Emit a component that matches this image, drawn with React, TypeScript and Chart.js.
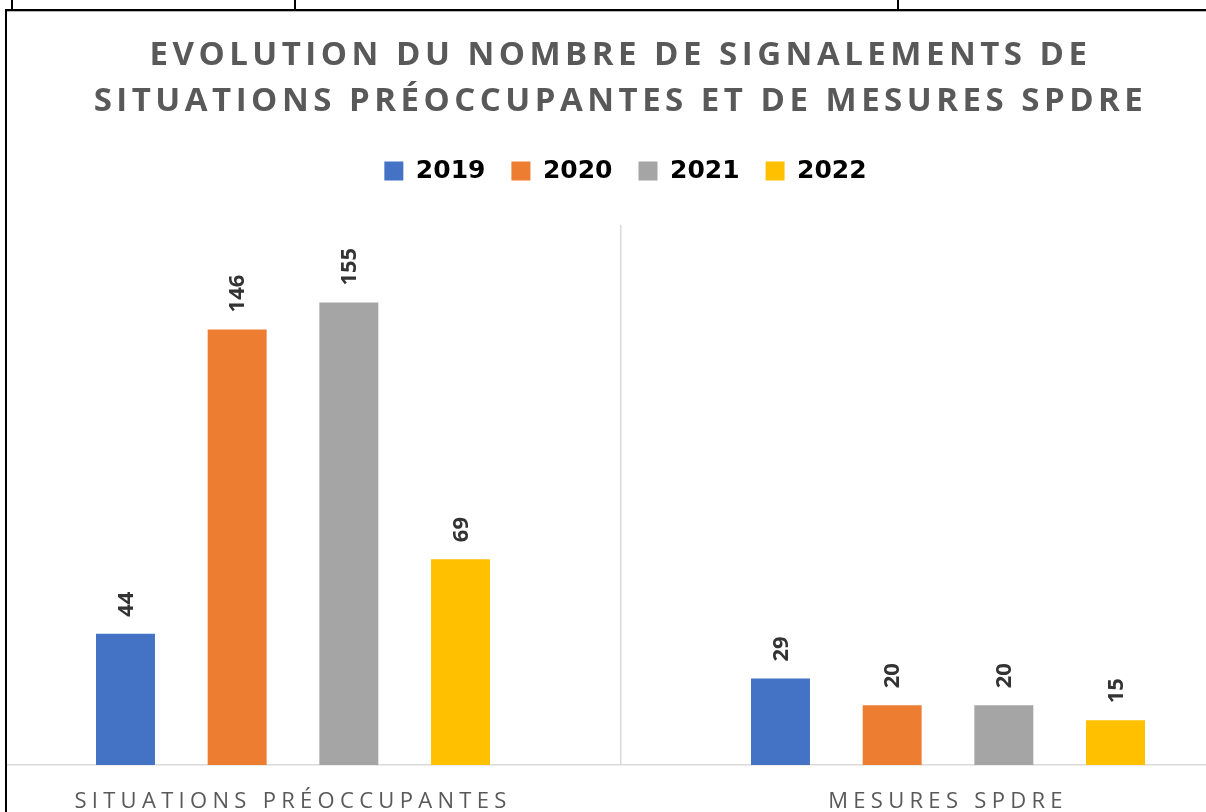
import React, { useEffect, useRef } from "react";
import { Chart, registerables } from "chart.js";

Chart.register(...registerables);

const titleLines = [
  "EVOLUTION DU NOMBRE DE SIGNALEMENTS DE",
  "SITUATIONS PRÉOCCUPANTES ET DE MESURES SPDRE",
];
const categories = ["SITUATIONS PRÉOCCUPANTES", "MESURES SPDRE"];
const seriesLabels = ["2019", "2020", "2021", "2022"];
const values2019 = [44, 29];
const values2020 = [146, 20];
const values2021 = [155, 20];
const values2022 = [69, 15];
const seriesColors = ["#4472C4", "#ED7D31", "#A5A5A5", "#FFC000"];
const yMin = 0;
const yMax = 181;

const dataLabelPlugin = {
  id: "rotatedDataLabels",
  afterDatasetsDraw(chart: any) {
    const ctx = chart.ctx;
    ctx.save();
    ctx.font = "bold 22px 'Open Sans'";
    ctx.fillStyle = "#333333";
    ctx.textAlign = "left";
    ctx.textBaseline = "middle";
    chart.data.datasets.forEach((ds: any, i: number) => {
      const meta = chart.getDatasetMeta(i);
      meta.data.forEach((bar: any, j: number) => {
        ctx.save();
        ctx.translate(bar.x + 1, bar.y - 17);
        ctx.rotate(-Math.PI / 2);
        ctx.fillText(String(ds.data[j]), 0, 0);
        ctx.restore();
      });
    });
    ctx.restore();
  },
};

const categoryLabelPlugin = {
  id: "spacedCategoryLabels",
  afterDraw(chart: any) {
    const ctx = chart.ctx;
    const xs = chart.scales.x;
    ctx.save();
    ctx.font = "22px 'Open Sans'";
    (ctx as any).letterSpacing = "5.3px";
    ctx.fillStyle = "#595959";
    ctx.textAlign = "center";
    ctx.textBaseline = "alphabetic";
    (chart.data.labels as string[]).forEach((c, i) => {
      ctx.fillText(c, xs.getPixelForValue(i), 808);
    });
    ctx.restore();
  },
};

export default function App() {
  const canvasRef = useRef<HTMLCanvasElement | null>(null);

  useEffect(() => {
    document.body.style.margin = "0";
    const canvas = canvasRef.current;
    if (!canvas) return;
    const seriesValues = [values2019, values2020, values2021, values2022];
    const chart = new Chart(canvas, {
      type: "bar",
      data: {
        labels: categories,
        datasets: seriesLabels.map((label, i) => ({
          label,
          data: seriesValues[i],
          backgroundColor: seriesColors[i],
          borderWidth: 0,
          categoryPercentage: 0.682,
          barPercentage: 0.528,
        })),
      },
      options: {
        responsive: false,
        animation: false,
        events: [],
        layout: { padding: { top: 132.5, left: 10.5, right: 0.5, bottom: 47 } },
        plugins: {
          title: { display: false },
          tooltip: { enabled: false },
          legend: {
            display: true,
            position: "top",
            labels: {
              boxWidth: 19,
              boxHeight: 19,
              padding: 26,
              color: "#000000",
              font: { family: "'DejaVu Sans'", weight: "bold", size: 25 },
            },
          },
          subtitle: {
            display: true,
            text: "",
            position: "top",
            weight: 500,
            font: { size: 10, lineHeight: 1 },
            padding: { top: 0, bottom: 21.5 },
          },
        },
        scales: {
          x: {
            grid: {
              display: true,
              offset: true,
              drawTicks: false,
              color: "#d9d9d9",
              lineWidth: 1.5,
            },
            border: { display: true, color: "#d9d9d9", width: 1.5 },
            ticks: { display: false },
          },
          y: {
            display: true,
            position: "right",
            min: yMin,
            max: yMax,
            grid: { display: false },
            border: { display: false },
            ticks: { display: false },
            afterFit: (scale: any) => {
              scale.width = 10;
            },
          },
        },
      },
      plugins: [dataLabelPlugin, categoryLabelPlugin],
    });
    return () => chart.destroy();
  }, []);

  return (
    <div
      style={{
        position: "fixed",
        left: 0,
        top: 0,
        width: 1206,
        height: 812,
        overflow: "hidden",
        background: "#ffffff",
      }}
    >
      <canvas
        ref={canvasRef}
        width={1331}
        height={812}
        style={{ position: "absolute", left: -45, top: 0, width: 1331, height: 812 }}
      />
      <div
        style={{
          position: "absolute",
          left: 0,
          top: 30,
          width: 1241,
          textAlign: "center",
          fontFamily: "'Open Sans'",
          fontWeight: 700,
          fontSize: 33,
          lineHeight: "46px",
          letterSpacing: "4.5px",
          color: "#595959",
          whiteSpace: "nowrap",
        }}
      >
        {titleLines.map((l) => (
          <div key={l}>{l}</div>
        ))}
      </div>
      <div style={{ position: "absolute", left: 0, top: 0, width: 5, height: 812, background: "#fff" }} />
      <div style={{ position: "absolute", left: 6, top: 9, width: 1200, height: 2, background: "#000" }} />
      <div style={{ position: "absolute", left: 6, top: 11, width: 1200, height: 1, background: "#b5b5b5" }} />
      <div style={{ position: "absolute", left: 5, top: 9, width: 2, height: 803, background: "#000" }} />
      <div style={{ position: "absolute", left: 11, top: 0, width: 2, height: 9, background: "#000" }} />
      <div style={{ position: "absolute", left: 294, top: 0, width: 2, height: 9, background: "#000" }} />
      <div style={{ position: "absolute", left: 897, top: 0, width: 2, height: 9, background: "#000" }} />
    </div>
  );
}
